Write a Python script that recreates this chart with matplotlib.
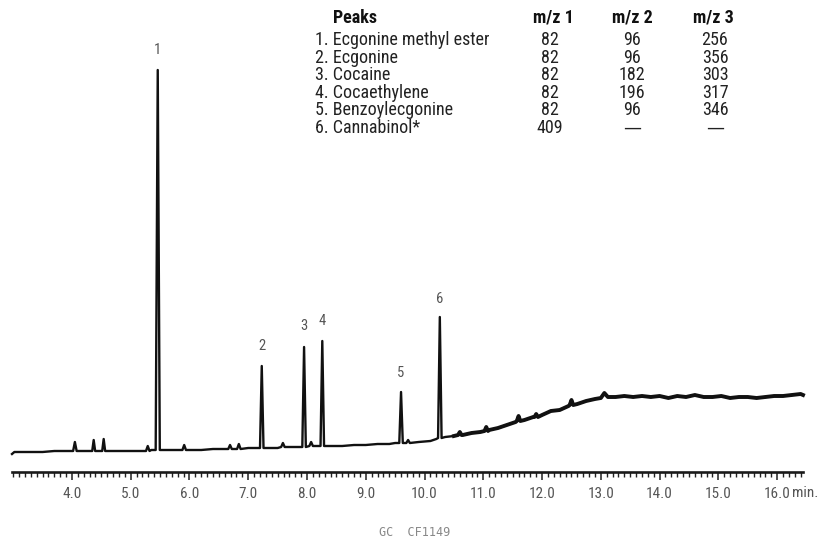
import matplotlib
matplotlib.use('Agg')
import matplotlib.pyplot as plt
from matplotlib.ticker import MultipleLocator, FixedLocator, FixedFormatter

# ── 数据：基线（时间 min, 信号）──────────────────────────
base_t = [2.98, 3.02, 3.10, 3.30, 3.50, 3.70, 3.90, 4.00, 4.20, 4.30, 4.45, 4.65, 4.85,
          5.05, 5.20, 5.35, 5.60, 5.75, 6.00, 6.20, 6.40, 6.60, 6.80, 7.00, 7.15,
          7.35, 7.50, 7.70, 7.85, 8.15, 8.40, 8.60, 8.80, 9.00, 9.20, 9.40, 9.50,
          9.70, 9.90, 10.10, 10.20, 10.35, 10.50, 10.65, 10.80, 10.95, 11.10, 11.25,
          11.40, 11.55, 11.70, 11.85, 12.00, 12.15, 12.30, 12.45, 12.60, 12.75,
          12.90, 13.00, 13.06, 13.12, 13.25, 13.40, 13.55, 13.70, 13.85, 14.00,
          14.15, 14.30, 14.45, 14.60, 14.75, 14.90, 15.05, 15.20, 15.35, 15.50,
          15.65, 15.80, 15.95, 16.10, 16.25, 16.40, 16.44]
base_i = [18, 20, 20, 20, 20, 21, 21, 21, 21, 21, 21, 21, 21,
          21, 21, 22, 22, 22, 22, 22, 23, 23, 23, 24, 24,
          24, 24, 25, 25, 26, 26, 26, 27, 27, 28, 28, 29,
          29, 30, 31, 33, 35, 36, 37, 39, 40, 42, 44,
          47, 50, 52, 55, 57, 61, 62, 66, 68, 71,
          73, 74, 79, 75, 75, 76, 75, 76, 75, 76,
          74, 76, 75, 77, 75, 75, 76, 74, 75, 75,
          74, 75, 76, 76, 77, 78, 77]

# 色谱峰：保留时间、峰顶信号、峰底信号
peak_t = [4.05, 4.37, 4.54, 5.29, 5.46, 5.91, 6.69, 6.84, 7.23, 7.59, 7.95, 8.07, 8.26,
          9.60, 9.72, 10.26, 10.60, 11.05, 11.60, 11.90, 12.50]
peak_top = [30, 32, 33, 26, 402, 27, 27, 28, 106, 29, 125, 30, 131,
            80, 32, 155, 40, 45, 56, 58, 72]
peak_bottom = [21, 21, 21, 21, 22, 22, 23, 23, 24, 25, 25, 26, 26,
               29, 29, 34, 37, 41, 51, 55, 67]
peak_w = [0.03, 0.025, 0.025, 0.03, 0.035, 0.03, 0.03, 0.03, 0.03, 0.03, 0.03, 0.03, 0.03,
          0.03, 0.03, 0.03, 0.03, 0.03, 0.03, 0.03, 0.03]

# 编号峰的标注
label_t = [5.46, 7.23, 7.95, 8.26, 9.60, 10.26]
label_i = [415, 119, 139, 144, 92, 166]
label_txt = ['1', '2', '3', '4', '5', '6']

# 表格
tbl_names = ['1. Ecgonine methyl ester', '2. Ecgonine', '3. Cocaine',
             '4. Cocaethylene', '5. Benzoylecgonine', '6. Cannabinol*']
tbl_mz1 = ['82', '82', '82', '82', '82', '409']
tbl_mz2 = ['96', '96', '182', '196', '96', '—']
tbl_mz3 = ['256', '356', '303', '317', '346', '—']
tbl_head = ['m/z 1', 'm/z 2', 'm/z 3']

tick_vals = [4, 5, 6, 7, 8, 9, 10, 11, 12, 13, 14, 15, 16]
tick_txt = ['4.0', '5.0', '6.0', '7.0', '8.0', '9.0', '10.0', '11.0', '12.0',
            '13.0', '14.0', '15.0', '16.0']

NARROW = ['Roboto Condensed', 'Liberation Sans Narrow', 'Roboto', 'DejaVu Sans']

# ── 组装谱线 ───────────────────────────────────────────
pts = []
for t, i in zip(base_t, base_i):
    if all(abs(t - p) > w for p, w in zip(peak_t, peak_w)):
        pts.append((t, i))
for p, top, bot, w in zip(peak_t, peak_top, peak_bottom, peak_w):
    pts += [(p - w, bot), (p, top), (p + w, bot)]
pts.sort()
xs = [p[0] for p in pts]
ys = [p[1] for p in pts]

W, H = 820, 544
fig = plt.figure(figsize=(W / 100, H / 100), dpi=100)
ax = fig.add_axes([12 / W, 72 / H, 791 / W, 472 / H])
ax.set_xlim(2.98, 16.44)
ax.set_ylim(0, 472)
ax.plot(xs, ys, color='#111111', lw=1.7, solid_joinstyle='round', clip_on=False)
# 后段噪声较大，线条显得更粗
late = [k for k, x in enumerate(xs) if x >= 10.4]
ax.plot([xs[k] for k in late], [ys[k] for k in late], color='#111111', lw=2.8,
        solid_joinstyle='round', clip_on=False)

for t, i, s in zip(label_t, label_i, label_txt):
    ax.text(t, i, s, ha='center', va='bottom', fontsize=10.5, color='#555555',
            family=NARROW, clip_on=False)

for sp in ['left', 'right', 'top']:
    ax.spines[sp].set_visible(False)
ax.spines['bottom'].set_linewidth(1.9)
ax.spines['bottom'].set_color('#1a1a1a')
ax.set_yticks([])
ax.xaxis.set_major_locator(FixedLocator(tick_vals))
ax.xaxis.set_major_formatter(FixedFormatter(tick_txt))
ax.xaxis.set_minor_locator(MultipleLocator(0.1))
ax.tick_params(axis='x', which='major', direction='out', length=6, width=1.1,
               color='#222222', labelsize=11, labelcolor='#555555', pad=5)
ax.tick_params(axis='x', which='minor', direction='out', length=3.5, width=1.0,
               color='#222222')
for lb in ax.get_xticklabels():
    lb.set_family(NARROW)
ax.text(16.26, -21, 'min.', ha='left', va='center', fontsize=11, color='#555555',
        family=NARROW, clip_on=False)


def ftxt(x, y, s, **kw):
    fam = ['DejaVu Sans'] if s == '—' else NARROW
    fig.text(x / W, 1 - y / H, s, va='center', family=fam, **kw)


ftxt(333, 18, 'Peaks', ha='left', fontsize=13, fontweight='bold', color='#111111')
for x, s in zip([553, 632, 713], tbl_head):
    ftxt(x, 18, s, ha='center', fontsize=13, fontweight='bold', color='#111111')
for r in range(len(tbl_names)):
    y = 40 + 17.6 * r
    ftxt(315, y, tbl_names[r], ha='left', fontsize=13, color='#222222')
    ftxt(550, y, tbl_mz1[r], ha='center', fontsize=13, color='#222222')
    ftxt(632, y, tbl_mz2[r], ha='center', fontsize=13, color='#222222')
    ftxt(715, y, tbl_mz3[r], ha='center', fontsize=13, color='#222222')

fig.text(415 / W, 1 - 533 / H, 'GC  CF1149', ha='center', va='center',
         fontsize=8.5, color='#888888', family='DejaVu Sans Mono')

plt.savefig('out.png', dpi=100)
plt.close()
